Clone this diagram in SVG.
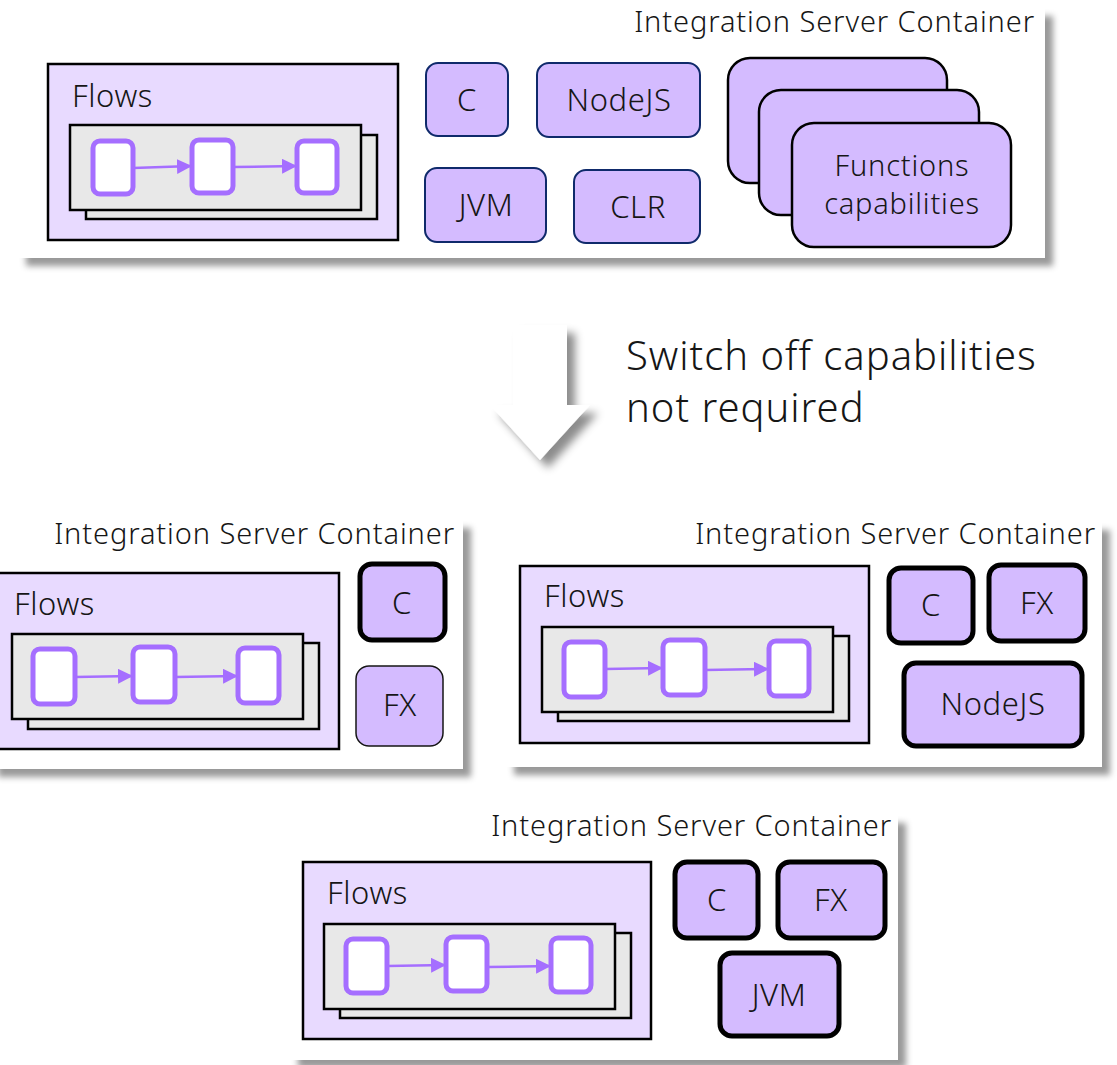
<svg xmlns="http://www.w3.org/2000/svg" width="1117" height="1065" viewBox="0 0 1117 1065">
<defs>
<filter id="sh" x="-5%" y="-5%" width="115%" height="120%">
<feDropShadow dx="8" dy="8" stdDeviation="3" flood-color="#000" flood-opacity="0.4"/>
</filter>
<filter id="ash" x="-20%" y="-20%" width="150%" height="150%">
<feDropShadow dx="8" dy="8" stdDeviation="4" flood-color="#000" flood-opacity="0.45"/>
</filter>
<marker id="ah" viewBox="0 0 10 10" refX="10" refY="5" markerWidth="6" markerHeight="6" orient="auto" markerUnits="strokeWidth">
<path d="M0,0 L10,5 L0,10 z" fill="#a56eff"/>
</marker>
</defs>
<style>
text{font-family:"Noto Sans","Open Sans","Liberation Sans",sans-serif;font-weight:300;fill:#161616}
.lbl{font-size:31px;letter-spacing:0.6px}
.fnt{font-size:29px;letter-spacing:0.8px}
.cap{font-size:29px;letter-spacing:0.9px}
.big{font-size:40px;letter-spacing:1px}
.ctr{fill:#fff;filter:url(#sh)}
.flows{fill:#e8daff;stroke:#000;stroke-width:2.5}
.inner{fill:#e8e8e8;stroke:#000;stroke-width:2.5}
.fn{fill:#fff;stroke:#a56eff;stroke-width:5}
.rt{fill:#d4bbff;stroke:#0f2a6b;stroke-width:2}
.thk{fill:#d4bbff;stroke:#000;stroke-width:5}
.thn{fill:#d4bbff;stroke:#161616;stroke-width:1.5}
.fc{fill:#d4bbff;stroke:#000;stroke-width:2.5}
.con{stroke:#a56eff;stroke-width:2.5;fill:none;marker-end:url(#ah)}
.m{text-anchor:middle}
.e{text-anchor:end}
</style>

<!-- Top container -->
<g id="top-container">
<rect class="ctr" x="18" y="8" width="1027" height="250"/>
<text class="cap e" x="1035" y="32">Integration Server Container</text>
<g id="top-flows">
<rect class="flows" x="48" y="64" width="350" height="176"/>
<text class="lbl" x="72" y="107">Flows</text>
<rect class="inner" x="86" y="135" width="291" height="84"/>
<rect class="inner" x="70" y="125" width="291" height="85"/>
<rect class="fn" x="93" y="141" width="40" height="53" rx="7"/>
<rect class="fn" x="192" y="140" width="41" height="53" rx="7"/>
<rect class="fn" x="297" y="141" width="40" height="52" rx="7"/>
</g>
<g id="top-c"><rect class="rt" x="426" y="63" width="82" height="73" rx="12"/><text class="lbl m" x="467" y="111">C</text></g>
<g id="top-nodejs"><rect class="rt" x="537" y="63" width="163" height="74" rx="12"/><text class="lbl m" x="619" y="111">NodeJS</text></g>
<g id="top-jvm"><rect class="rt" x="425" y="168" width="121" height="74" rx="12"/><text class="lbl m" x="486" y="216">JVM</text></g>
<g id="top-clr"><rect class="rt" x="574" y="170" width="126" height="73" rx="12"/><text class="lbl m" x="638" y="218">CLR</text></g>
<g id="top-functions">
<rect class="fc" x="728" y="58" width="219" height="125" rx="22"/>
<rect class="fc" x="759" y="90" width="220" height="125" rx="22"/>
<rect class="fc" x="792" y="123" width="219" height="124" rx="22"/>
<text class="fnt m" x="902" y="176">Functions</text>
<text class="fnt m" x="902" y="214">capabilities</text>
</g>
</g>

<!-- Big arrow -->
<g id="switch-arrow">
<path d="M513,325 L567,325 L567,405 L590,405 L540,460 L490,405 L513,405 Z" fill="#fff" filter="url(#ash)"/>
<text class="big" x="626" y="370">Switch off capabilities</text>
<text class="big" x="626" y="422">not required</text>
</g>

<!-- Bottom-left container -->
<g id="bl-container">
<rect class="ctr" x="-10" y="520" width="473" height="249"/>
<text class="cap e" x="455" y="544">Integration Server Container</text>
<g id="bl-flows">
<rect class="flows" x="-5" y="573" width="344" height="176"/>
<text class="lbl" x="14" y="615">Flows</text>
<rect class="inner" x="28" y="643" width="291" height="86"/>
<rect class="inner" x="12" y="634" width="291" height="85"/>
<rect class="fn" x="33" y="649" width="42" height="55" rx="7"/>
<rect class="fn" x="133" y="647" width="42" height="55" rx="7"/>
<rect class="fn" x="238" y="648" width="41" height="55" rx="7"/>
</g>
<g id="bl-c"><rect class="thk" x="360" y="564" width="85" height="76" rx="12"/><text class="lbl m" x="402" y="614">C</text></g>
<g id="bl-fx"><rect class="thn" x="356" y="666" width="87" height="80" rx="13"/><text class="lbl m" x="400" y="716">FX</text></g>
</g>

<!-- Bottom-right container -->
<g id="br-container">
<rect class="ctr" x="506" y="522" width="596" height="245"/>
<text class="cap e" x="1096" y="544">Integration Server Container</text>
<g id="br-flows">
<rect class="flows" x="520" y="566" width="349" height="177"/>
<text class="lbl" x="544" y="607">Flows</text>
<rect class="inner" x="558" y="636" width="291" height="85"/>
<rect class="inner" x="542" y="627" width="291" height="85"/>
<rect class="fn" x="564" y="642" width="41" height="55" rx="7"/>
<rect class="fn" x="663" y="640" width="42" height="55" rx="7"/>
<rect class="fn" x="769" y="641" width="40" height="55" rx="7"/>
</g>
<g id="br-c"><rect class="thk" x="889" y="568" width="84" height="75" rx="12"/><text class="lbl m" x="931" y="616">C</text></g>
<g id="br-fx"><rect class="thk" x="989" y="565" width="96" height="76" rx="12"/><text class="lbl m" x="1037" y="614">FX</text></g>
<g id="br-nodejs"><rect class="thk" x="904" y="663" width="178" height="83" rx="12"/><text class="lbl m" x="993" y="715">NodeJS</text></g>
</g>

<!-- Bottom container -->
<g id="b-container">
<rect class="ctr" x="290" y="815" width="608" height="245"/>
<text class="cap e" x="892" y="836">Integration Server Container</text>
<g id="b-flows">
<rect class="flows" x="303" y="862" width="348" height="177"/>
<text class="lbl" x="327" y="904">Flows</text>
<rect class="inner" x="340" y="933" width="291" height="85"/>
<rect class="inner" x="324" y="924" width="291" height="85"/>
<rect class="fn" x="346" y="939" width="41" height="54" rx="7"/>
<rect class="fn" x="446" y="937" width="41" height="54" rx="7"/>
<rect class="fn" x="551" y="938" width="40" height="54" rx="7"/>
</g>
<g id="b-c"><rect class="thk" x="675" y="862" width="83" height="76" rx="12"/><text class="lbl m" x="717" y="911">C</text></g>
<g id="b-fx"><rect class="thk" x="778" y="862" width="107" height="76" rx="12"/><text class="lbl m" x="831" y="911">FX</text></g>
<g id="b-jvm"><rect class="thk" x="720" y="953" width="119" height="83" rx="12"/><text class="lbl m" x="779" y="1006">JVM</text></g>
</g>

<!-- Connectors -->
<g id="connectors">
<path class="con" d="M133,168 L192,166"/>
<path class="con" d="M233,167 L297,166"/>
<path class="con" d="M75,677 L133,676"/>
<path class="con" d="M175,677 L238,676"/>
<path class="con" d="M605,669 L663,668"/>
<path class="con" d="M705,670 L769,669"/>
<path class="con" d="M387,966 L446,965"/>
<path class="con" d="M487,967 L551,966"/>
</g>
</svg>
